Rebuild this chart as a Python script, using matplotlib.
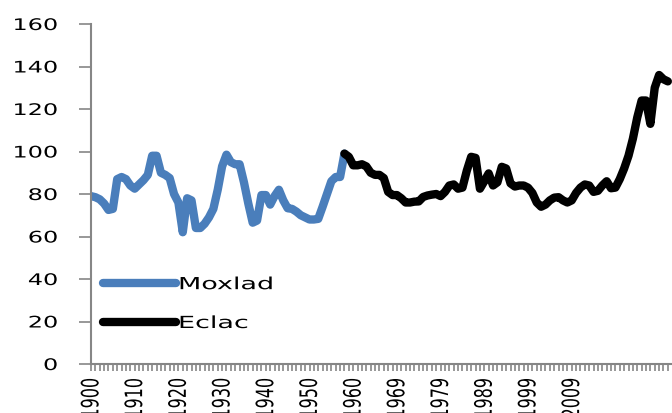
import matplotlib
matplotlib.use("Agg")
import matplotlib.pyplot as plt
from matplotlib.patheffects import AbstractPathEffect
from matplotlib.transforms import Affine2D
import numpy as np

# Category labels shown every 10 categories
x_labels = ["1900", "1910", "1920", "1930", "1940", "1950",
            "1960", "1969", "1979", "1989", "1999", "2009"]

# Moxlad series (categories 0..58)
moxlad = [79, 78.5, 77.5, 75.5, 72.5, 73, 87, 88, 87, 84,
          82.5, 84.5, 86.5, 89, 98, 98, 90, 89, 87.5, 80,
          76, 62, 78, 77, 64, 64, 66, 69, 73, 82,
          93, 98.5, 95, 94, 94, 85.5, 75.5, 66.5, 67.5, 79.5,
          79.5, 75, 79, 82, 77, 73.3, 73, 71.7, 70, 69,
          68, 68, 68.3, 74, 80, 86, 88, 88, 99]

# Eclac series (categories 58..132)
eclac = [99, 97.5, 93.5, 93.5, 94, 93, 90, 89, 89, 87.5,
         81, 79.5, 79.5, 78, 76, 76, 76.4, 76.5, 78.6, 79.3,
         79.7, 80, 79, 81, 84, 84.5, 82.5, 83, 91, 97.5,
         97, 82.5, 86, 89.7, 84, 85.5, 92.8, 92, 85, 83.5,
         84, 84, 83, 80.5, 76, 74, 75, 77, 78.3, 78.5,
         77, 76, 77, 80.5, 83, 84.5, 84, 81, 81.5, 84,
         86, 82.7, 83, 87, 92, 98, 106, 116, 124, 124,
         113, 130, 136, 134, 133]

eclac_start = len(moxlad) - 1


class StretchX(AbstractPathEffect):
    """Widen glyphs horizontally (display x) around an anchor."""
    def __init__(self, sx, anchor="center"):
        super().__init__()
        self.sx = sx
        self.anchor = anchor

    def draw_path(self, renderer, gc, tpath, affine, rgbFace=None):
        verts = affine.transform(tpath.vertices)
        if len(verts) == 0:
            return
        xmin, xmax = verts[:, 0].min(), verts[:, 0].max()
        a = {"left": xmin, "right": xmax, "center": 0.5 * (xmin + xmax)}[self.anchor]
        new_aff = affine + Affine2D().translate(-a, 0).scale(self.sx, 1).translate(a, 0)
        renderer.draw_path(gc, tpath, new_aff, rgbFace)


SX = 1.5
FS = 11.5

fig = plt.figure(figsize=(6.72, 4.13), dpi=100)
ax = fig.add_axes([91/672, 49/413, (672-91)/672, 340/413])

x_m = np.arange(len(moxlad))
x_e = np.arange(eclac_start, eclac_start + len(eclac))

ax.plot(x_m, moxlad, color="#4A7EBB", lw=6, solid_joinstyle="round",
        solid_capstyle="round", label="Moxlad", zorder=2)
ax.plot(x_e, eclac, color="#000000", lw=6, solid_joinstyle="round",
        solid_capstyle="round", label="Eclac", zorder=3)

n_cat = eclac_start + len(eclac)
ax.set_xlim(0, (672-91)/4.37)
ax.set_ylim(0, 160)

ticks = np.arange(n_cat)
labels = [""] * n_cat
for k, lab in enumerate(x_labels):
    labels[k*10] = lab
ax.set_xticks(ticks)
ax.set_xticklabels(labels, rotation=90, fontsize=FS)
ax.set_yticks(np.arange(0, 161, 20))
ax.tick_params(axis="y", length=9, width=1.2, color="#868686", pad=15, labelsize=FS)
ax.tick_params(axis="x", length=5, width=1.2, color="#868686", pad=5)

for t in ax.get_yticklabels():
    t.set_path_effects([StretchX(SX, "right")])
for t in ax.get_xticklabels():
    t.set_path_effects([StretchX(SX, "center")])

for s in ["top", "right"]:
    ax.spines[s].set_visible(False)
for s in ["left", "bottom"]:
    ax.spines[s].set_color("#868686")
    ax.spines[s].set_linewidth(1.5)

leg = ax.legend(loc="lower left", bbox_to_anchor=(103/672, (413-332)/413),
                bbox_transform=fig.transFigure, frameon=False, fontsize=12,
                handlelength=4.4, handletextpad=0.1, labelspacing=1.25,
                borderpad=0, borderaxespad=0)
for t in leg.get_texts():
    t.set_path_effects([StretchX(1.62, "left")])

fig.savefig("out.png", dpi=100)
